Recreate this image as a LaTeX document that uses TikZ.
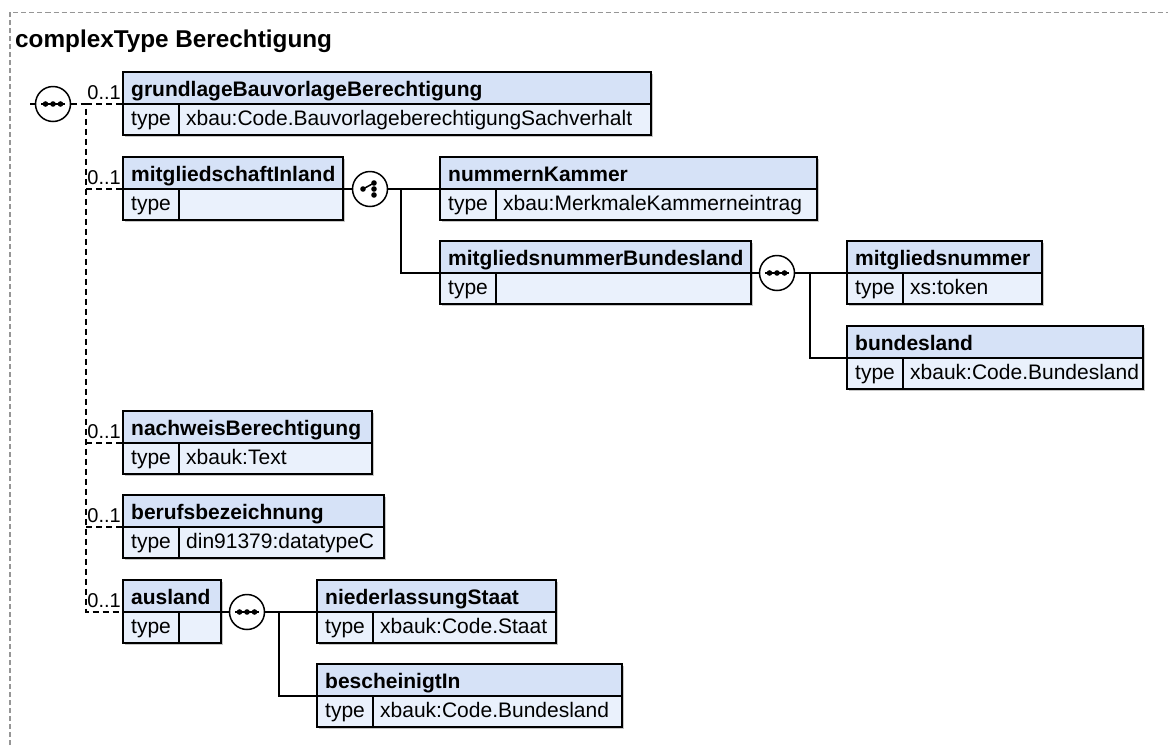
\documentclass[tikz,border=0pt]{standalone}
\usepackage{fontspec}
\setmainfont{Liberation Sans}
\usetikzlibrary{shadows}
\definecolor{hdr}{RGB}{214,226,247}
\definecolor{bdy}{RGB}{234,241,252}
\definecolor{frm}{RGB}{150,150,150}
\tikzset{
 elbox/.style={rectangle, draw=black, fill=bdy, line width=1.6pt, inner sep=0pt, outer sep=0pt,
   drop shadow={shadow xshift=1.5pt, shadow yshift=-1.5pt, fill=black, opacity=0.22}},
 elhead/.style={rectangle, draw=black, fill=hdr, line width=1.6pt, inner sep=0pt, outer sep=0pt},
 eltype/.style={rectangle, draw=black, line width=1.6pt, inner sep=0pt, outer sep=0pt},
 nametext/.style={inner sep=0pt, font=\fontsize{21}{25}\selectfont\bfseries},
 valtext/.style={inner sep=0pt, font=\fontsize{21}{25}\selectfont},
 titletext/.style={inner sep=0pt, font=\fontsize{24.3}{28}\selectfont\bfseries},
 mult/.style={inner sep=0pt, font=\fontsize{20}{24}\selectfont},
 comp/.style={circle, draw=black, fill=white, line width=1.5pt, minimum size=35pt, inner sep=0pt, outer sep=0pt},
 conn/.style={line width=1.5pt, draw=black},
 dconn/.style={line width=1.5pt, draw=black, dash pattern=on 6pt off 4pt},
 framebox/.style={draw=frm, line width=1.2pt, dash pattern=on 5pt off 3pt},
 symline/.style={line width=1.5pt, draw=black},
}
\newcommand\xsdElem[6]{%
 \pgfmathsetmacro\xsdW{#4-#2}%
 \node[elbox, minimum width=\xsdW pt, minimum height=63pt, anchor=north west] (#1) at (#2,#3-32) {};
 \node[elhead, minimum width=\xsdW pt, minimum height=32pt, anchor=north west] (#1-h) at (#2,#3-32) {};
 \node[eltype, minimum width=56pt, minimum height=31pt, anchor=south west] (#1-t) at (#2,#3+31) {};
 \node[nametext, anchor=base west] (#1-n) at (#2+8,#3-8) {#5};
 \node[valtext, anchor=base west] (#1-k) at (#2+8,#3+21) {type};
 \node[valtext, anchor=base west] (#1-v) at (#2+63,#3+21) {#6};
}
\newcommand\xsdSeq[1]{%
 \draw[symline] ([xshift=-12pt]#1.center) -- ([xshift=12pt]#1.center);
 \foreach \dd in {-7.5,0,7.5} \fill ([xshift=\dd pt]#1.center) circle (2.8pt);
}
\newcommand\xsdChoice[1]{%
 \draw[symline] ([xshift=-7pt]#1.center) -- ([shift={(4pt,6pt)}]#1.center);
 \fill ([xshift=-7pt]#1.center) circle (2.8pt);
 \foreach \dd in {-6,0,6} \fill ([shift={(4pt,\dd pt)}]#1.center) circle (2.8pt);
}
\begin{document}
\begin{tikzpicture}[x=1pt,y=-1pt]
\useasboundingbox (0,0) rectangle (1168,745);
\draw[framebox] (10,745) -- (10,12.5) -- (1168,12.5);
\node[titletext, anchor=base west] (title) at (15,47) {complexType Berechtigung};

% elements
\xsdElem{grund}{123}{104}{651}{grundlageBauvorlageBerechtigung}{xbau:Code.BauvorlageberechtigungSachverhalt}
\xsdElem{mitgl}{123}{189}{343}{mitgliedschaftInland}{}
\xsdElem{nachw}{123}{443}{372}{nachweisBerechtigung}{xbauk:Text}
\xsdElem{beruf}{123}{527}{384}{berufsbezeichnung}{din91379:datatypeC}
\xsdElem{ausl}{123}{612}{221}{ausland}{}
\xsdElem{nk}{440}{189}{817}{nummernKammer}{xbau:MerkmaleKammerneintrag}
\xsdElem{mnb}{440}{273}{751}{mitgliedsnummerBundesland}{}
\xsdElem{mn}{847}{273}{1042}{mitgliedsnummer}{xs:token}
\xsdElem{bl}{847}{358}{1143}{bundesland}{xbauk:Code.Bundesland}
\xsdElem{ns}{317}{612}{556}{niederlassungStaat}{xbauk:Code.Staat}
\xsdElem{bi}{317}{696}{622}{bescheinigtIn}{xbauk:Code.Bundesland}

% root sequence
\node[comp] (s0) at (53,104) {};
\coordinate (rootin) at (30,104);
\coordinate (j0) at (86,104);
\draw[conn] (rootin) -- (s0.west);
\draw[dconn] (s0.east) -- (j0) |- (ausl-h.south west);
\foreach \nn in {grund,mitgl,nachw,beruf}
  \draw[dconn] (j0 |- \nn-h.south west) -- (\nn-h.south west);
\foreach \nn in {grund,mitgl,nachw,beruf,ausl}
  \node[mult, anchor=base east] (\nn-m) at ([shift={(-2pt,4.5pt)}]\nn-h.south west) {0..1};
\xsdSeq{s0}

% mitgliedschaftInland choice
\node[comp] (c1) at (370,189) {};
\coordinate (j1) at (401,189);
\draw[conn] (mitgl-h.south east) -- (c1.west);
\draw[conn] (c1.east) -- (nk-h.south west);
\draw[conn] (j1) |- (mnb-h.south west);
\xsdChoice{c1}

% mitgliedsnummerBundesland sequence
\node[comp] (s1) at (777,273) {};
\coordinate (j2) at (810,273);
\draw[conn] (mnb-h.south east) -- (s1.west);
\draw[conn] (s1.east) -- (mn-h.south west);
\draw[conn] (j2) |- (bl-h.south west);
\xsdSeq{s1}

% ausland sequence
\node[comp] (s2) at (247,612) {};
\coordinate (j3) at (279,612);
\draw[conn] (ausl-h.south east) -- (s2.west);
\draw[conn] (s2.east) -- (ns-h.south west);
\draw[conn] (j3) |- (bi-h.south west);
\xsdSeq{s2}
\end{tikzpicture}
\end{document}
